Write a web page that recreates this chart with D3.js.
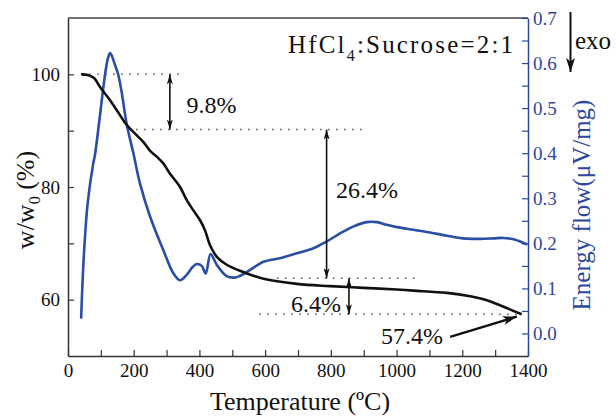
<!DOCTYPE html>
<html>
<head>
<meta charset="utf-8">
<script src="https://cdn.jsdelivr.net/npm/d3@7"></script>
<style>
  html, body { margin: 0; padding: 0; background: #fff; }
  svg { display: block; }
</style>
</head>
<body>
<svg id="chart" width="616" height="416"></svg>
<script>
// ---- data ----
const tgTemp = [40, 60, 80, 97, 128, 150, 179, 229, 250, 270, 290, 310, 341, 361, 381, 402, 417, 432, 453, 483, 534, 595, 696, 798, 899, 1000, 1051, 1153, 1224, 1275, 1315, 1356, 1381];
const tgValue = [100, 99.9, 99.3, 97.8, 95.4, 93.5, 91.0, 88.0, 86.4, 85.4, 84.2, 82.4, 80.0, 77.7, 75.9, 74.1, 72.3, 69.7, 67.6, 66.2, 64.9, 63.7, 62.8, 62.4, 62.1, 61.8, 61.6, 61.2, 60.6, 59.9, 59.0, 58.0, 57.4];

const dscTemp = [40, 48, 60, 77, 82, 95, 106, 116, 122, 128, 134, 142, 153, 163, 179, 199, 219, 250, 290, 321, 341, 361, 380, 392, 407, 419, 434, 453, 483, 508, 524, 554, 595, 645, 696, 747, 787, 828, 868, 909, 940, 970, 1001, 1051, 1102, 1153, 1203, 1254, 1295, 1325, 1356, 1386, 1398];
const dscValue = [0.033, 0.17, 0.29, 0.378, 0.396, 0.47, 0.537, 0.59, 0.612, 0.622, 0.615, 0.598, 0.574, 0.537, 0.463, 0.40, 0.333, 0.259, 0.185, 0.133, 0.118, 0.130, 0.148, 0.154, 0.150, 0.133, 0.176, 0.152, 0.127, 0.124, 0.128, 0.141, 0.159, 0.167, 0.178, 0.189, 0.204, 0.222, 0.237, 0.247, 0.247, 0.241, 0.236, 0.230, 0.224, 0.217, 0.211, 0.210, 0.211, 0.212, 0.209, 0.201, 0.197];

const xTicks = [0, 100, 200, 300, 400, 500, 600, 700, 800, 900, 1000, 1100, 1200, 1300, 1400];
const xTickLabels = ["0", "", "200", "", "400", "", "600", "", "800", "", "1000", "", "1200", "", "1400"];
const leftTicks = [60, 70, 80, 90, 100];
const leftTickLabels = ["60", "", "80", "", "100"];
const rightTicks = [0, 0.05, 0.1, 0.15, 0.2, 0.25, 0.3, 0.35, 0.4, 0.45, 0.5, 0.55, 0.6, 0.65, 0.7];
const rightTickLabels = ["0.0", "", "0.1", "", "0.2", "", "0.3", "", "0.4", "", "0.5", "", "0.6", "", "0.7"];

// annotation levels (mass %) and loss steps
const levelValues = [100, 90.2, 63.8, 57.4];
const levelFrom = [40, 183, 636, 582];
const levelTo = [356, 894, 1061, 1366];
const stepLabels = ["9.8%", "26.4%", "6.4%"];
const stepTemp = [310, 787, 855];
const stepLabelTemp = [361, 816, 755];
const stepLabelValue = [94.7, 79.6, 59.3];
const residueLabel = "57.4%";
const residueFrom = [1163, 53.4];
const residueTo = [1366, 57.0];
const residueLabelPos = [1047, 53.6];

const sampleLabel = ["HfCl", "4", ":Sucrose=2:1"];
const xTitle = "Temperature (ºC)";
const rightTitle = "Energy flow(μV/mg)";

// ---- layout ----
const FONT = "'Liberation Serif', 'Times New Roman', serif";
const svg = d3.select("#chart").attr("font-family", FONT);
const L = 68, R = 528, T = 18, B = 356;
const black = "#111", blue = "#2a4ea4", axisBlue = "#2d47a0";

const x = d3.scaleLinear().domain([0, 1400]).range([L, R]);
const yL = d3.scaleLinear().domain([50, 110]).range([B, T]);
const yR = d3.scaleLinear().domain([-0.05, 0.7]).range([B, T]);

// arrowheads
const defs = svg.append("defs");
function marker(id, len, wid, color) {
  defs.append("marker")
    .attr("id", id)
    .attr("viewBox", `0 ${-wid/2} ${len} ${wid}`)
    .attr("refX", len).attr("refY", 0)
    .attr("markerWidth", len).attr("markerHeight", wid)
    .attr("markerUnits", "userSpaceOnUse")
    .attr("orient", "auto-start-reverse")
    .append("path")
    .attr("d", `M0,${-wid/2}L${len},0L0,${wid/2}L${len*0.25},0Z`)
    .attr("fill", color);
}
marker("ah", 10, 6, black);
marker("ahBig", 14, 9, black);

// frame top
svg.append("line").attr("x1", L).attr("x2", R).attr("y1", T).attr("y2", T)
  .attr("stroke", "#444").attr("stroke-width", 1.5);

// axes
const fs = "19px";
function styleAxis(g, color, textColor) {
  g.attr("font-family", FONT);
  g.select(".domain").attr("stroke", color).attr("stroke-width", 1.5);
  g.selectAll(".tick line").attr("stroke", color).attr("stroke-width", 1.2);
  g.selectAll("text").attr("font-size", fs).attr("fill", textColor).attr("font-family", FONT);
}
const gx = svg.append("g").attr("transform", `translate(0,${B})`)
  .call(d3.axisBottom(x).tickValues(xTicks).tickSize(-6).tickSizeOuter(0).tickPadding(8)
    .tickFormat((d, i) => xTickLabels[i]));
styleAxis(gx, "#333", black);

const gl = svg.append("g").attr("transform", `translate(${L},0)`)
  .call(d3.axisLeft(yL).tickValues(leftTicks).tickSize(-6).tickSizeOuter(0).tickPadding(8)
    .tickFormat((d, i) => leftTickLabels[i]));
styleAxis(gl, "#333", black);

const gr = svg.append("g").attr("transform", `translate(${R},0)`)
  .call(d3.axisRight(yR).tickValues(rightTicks).tickSize(-6).tickSizeOuter(0).tickPadding(5)
    .tickFormat((d, i) => rightTickLabels[i]));
styleAxis(gr, axisBlue, axisBlue);

// dotted level lines
levelValues.forEach((v, i) => {
  svg.append("line")
    .attr("x1", x(levelFrom[i])).attr("x2", x(levelTo[i]))
    .attr("y1", yL(v)).attr("y2", yL(v))
    .attr("stroke", "#555").attr("stroke-width", 1.5)
    .attr("stroke-dasharray", "1.5,6.5");
});

// curves
const tgData = tgTemp.map((t, i) => [t, tgValue[i]]);
const dscData = dscTemp.map((t, i) => [t, dscValue[i]]);

svg.append("path").datum(dscData)
  .attr("fill", "none").attr("stroke", blue).attr("stroke-width", 2.6)
  .attr("stroke-linejoin", "round")
  .attr("d", d3.line().x(d => x(d[0])).y(d => yR(d[1])).curve(d3.curveCatmullRom.alpha(0.5)));

svg.append("path").datum(tgData)
  .attr("fill", "none").attr("stroke", black).attr("stroke-width", 2.6)
  .attr("stroke-linejoin", "round")
  .attr("d", d3.line().x(d => x(d[0])).y(d => yL(d[1])).curve(d3.curveCatmullRom.alpha(0.5)));

// step arrows and labels
stepTemp.forEach((t, i) => {
  svg.append("line")
    .attr("x1", x(t)).attr("x2", x(t))
    .attr("y1", yL(levelValues[i])).attr("y2", yL(levelValues[i + 1]))
    .attr("stroke", black).attr("stroke-width", 1.6)
    .attr("marker-start", "url(#ah)").attr("marker-end", "url(#ah)");
  svg.append("text")
    .attr("x", x(stepLabelTemp[i])).attr("y", yL(stepLabelValue[i]))
    .attr("dy", "0.35em")
    .attr("text-anchor", i === 2 ? "middle" : "start")
    .attr("font-size", "24px").attr("fill", black)
    .text(stepLabels[i]);
});

// residue arrow
svg.append("line")
  .attr("x1", x(residueFrom[0])).attr("y1", yL(residueFrom[1]))
  .attr("x2", x(residueTo[0])).attr("y2", yL(residueTo[1]))
  .attr("stroke", black).attr("stroke-width", 2.4)
  .attr("marker-end", "url(#ahBig)");
svg.append("text")
  .attr("x", x(residueLabelPos[0])).attr("y", yL(residueLabelPos[1]))
  .attr("dy", "0.35em").attr("text-anchor", "middle")
  .attr("font-size", "24px").attr("fill", black)
  .text(residueLabel);

// sample label
const st = svg.append("text")
  .attr("x", 288).attr("y", 53)
  .attr("font-size", "25px").attr("fill", black);
st.append("tspan").text(sampleLabel[0]);
st.append("tspan").attr("font-size", "16px").attr("dy", 8).text(sampleLabel[1]);
st.append("tspan").attr("dy", -8).text(sampleLabel[2]);
const w = st.node().getComputedTextLength();
const nChars = (sampleLabel.join("")).length;
st.attr("letter-spacing", ((225 - w) / (nChars - 1)).toFixed(2) + "px");

// exo marker
svg.append("line")
  .attr("x1", 570.5).attr("x2", 570.5).attr("y1", 12).attr("y2", 72)
  .attr("stroke", black).attr("stroke-width", 2)
  .attr("marker-end", "url(#ahBig)");
svg.append("text").attr("x", 575).attr("y", 49)
  .attr("font-size", "25px").attr("fill", black).text("exo");

// axis titles
svg.append("text").attr("x", 300).attr("y", 410)
  .attr("text-anchor", "middle").attr("font-size", "26px").attr("fill", black)
  .text(xTitle);

const lt = svg.append("text")
  .attr("transform", "translate(34,200) rotate(-90)")
  .attr("text-anchor", "middle").attr("font-size", "26px").attr("fill", black);
lt.append("tspan").text("w/w");
lt.append("tspan").attr("font-size", "16px").attr("dy", 6).text("0");
lt.append("tspan").attr("dy", -6).text(" (%)");

svg.append("text")
  .attr("transform", "translate(590,205) rotate(-90)")
  .attr("text-anchor", "middle").attr("font-size", "25px").attr("fill", axisBlue)
  .text(rightTitle);
</script>
</body>
</html>
